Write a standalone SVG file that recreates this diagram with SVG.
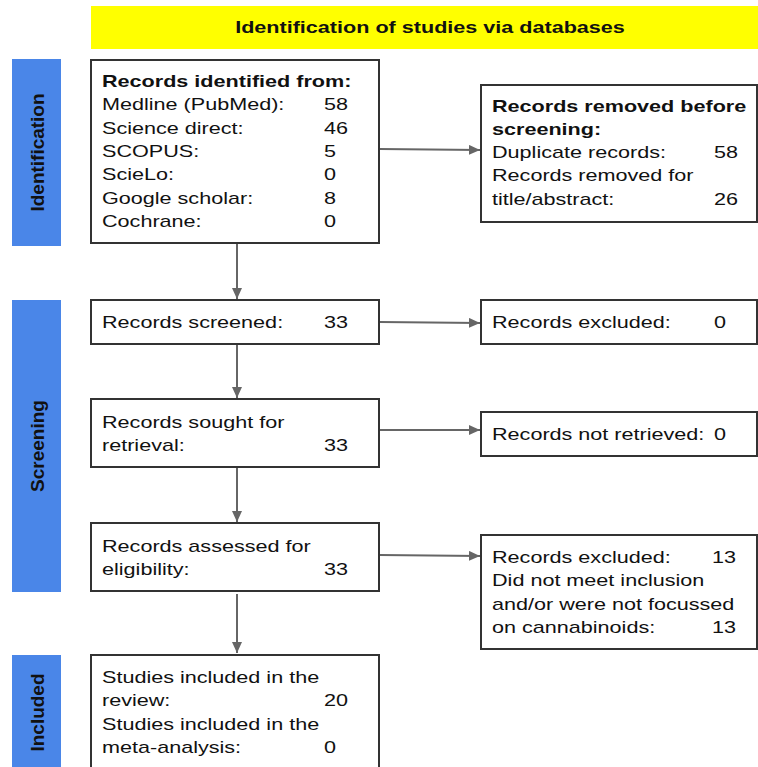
<svg xmlns="http://www.w3.org/2000/svg" width="758" height="767" viewBox="0 0 758 767">
<style>
.t{font-family:"Liberation Sans",Arial,sans-serif;font-size:17px;fill:#111}
.b{font-family:"Liberation Sans",Arial,sans-serif;font-size:17px;font-weight:bold;fill:#111}
.s{font-family:"Liberation Sans",Arial,sans-serif;font-size:19px;font-weight:bold;fill:#111}
.box{fill:#fff;stroke:#333;stroke-width:2}
.side{fill:#4a86e8}
.con{stroke:#666;stroke-width:2;fill:none}
</style>
<defs>
<marker id="ah" markerUnits="userSpaceOnUse" markerWidth="12" markerHeight="11" refX="11" refY="5" orient="auto">
<path d="M0,0 L11,5 L0,10 z" fill="#666"/>
</marker>
</defs>
<rect width="758" height="767" fill="#fff"/>
<g id="header">
<rect x="91" y="6" width="667" height="43" fill="#ffff00"/>
<text class="b" text-anchor="middle" transform="translate(430 33) scale(1.27 1)">Identification of studies via databases</text>
</g>
<g id="side-identification">
<rect class="side" x="12" y="59" width="49" height="187"/>
<text class="s" text-anchor="middle" transform="translate(44 152.5) rotate(-90) scale(1 0.93)">Identification</text>
</g>
<g id="side-screening">
<rect class="side" x="12" y="300" width="49" height="292"/>
<text class="s" text-anchor="middle" transform="translate(44 446) rotate(-90) scale(1 0.93)">Screening</text>
</g>
<g id="side-included">
<rect class="side" x="12" y="655" width="49" height="115"/>
<text class="s" text-anchor="middle" transform="translate(44 712.5) rotate(-90) scale(1 0.93)">Included</text>
</g>
<g id="connectors">
<line class="con" x1="380" y1="149" x2="480" y2="150" marker-end="url(#ah)"/>
<line class="con" x1="380" y1="322" x2="480" y2="323" marker-end="url(#ah)"/>
<line class="con" x1="380" y1="430" x2="480" y2="430" marker-end="url(#ah)"/>
<line class="con" x1="380" y1="555" x2="480" y2="556" marker-end="url(#ah)"/>
<line class="con" x1="237" y1="244" x2="237" y2="299" marker-end="url(#ah)"/>
<line class="con" x1="237" y1="345" x2="237" y2="398" marker-end="url(#ah)"/>
<line class="con" x1="237" y1="468" x2="237" y2="522" marker-end="url(#ah)"/>
<line class="con" x1="237" y1="594" x2="237" y2="653" marker-end="url(#ah)"/>
</g>
<g id="identified">
<rect class="box" x="91" y="60" width="288" height="183"/>
<text class="b" transform="translate(102 87) scale(1.27 1)">Records identified from:</text>
<text class="t" transform="translate(102 110.3) scale(1.27 1)">Medline (PubMed):</text>
<text class="t" transform="translate(324 110.3) scale(1.27 1)">58</text>
<text class="t" transform="translate(102 133.6) scale(1.27 1)">Science direct:</text>
<text class="t" transform="translate(324 133.6) scale(1.27 1)">46</text>
<text class="t" transform="translate(102 156.9) scale(1.27 1)">SCOPUS:</text>
<text class="t" transform="translate(324 156.9) scale(1.27 1)">5</text>
<text class="t" transform="translate(102 180.2) scale(1.27 1)">ScieLo:</text>
<text class="t" transform="translate(324 180.2) scale(1.27 1)">0</text>
<text class="t" transform="translate(102 203.5) scale(1.27 1)">Google scholar:</text>
<text class="t" transform="translate(324 203.5) scale(1.27 1)">8</text>
<text class="t" transform="translate(102 226.8) scale(1.27 1)">Cochrane:</text>
<text class="t" transform="translate(324 226.8) scale(1.27 1)">0</text>
</g>
<g id="removed">
<rect class="box" x="481" y="85" width="276" height="137"/>
<text class="b" transform="translate(492 112) scale(1.27 1)">Records removed before</text>
<text class="b" transform="translate(492 135) scale(1.27 1)">screening:</text>
<text class="t" transform="translate(492 158.2) scale(1.27 1)">Duplicate records:</text>
<text class="t" transform="translate(714 158.2) scale(1.27 1)">58</text>
<text class="t" transform="translate(492 181.4) scale(1.27 1)">Records removed for</text>
<text class="t" transform="translate(492 204.5) scale(1.27 1)">title/abstract:</text>
<text class="t" transform="translate(714 204.5) scale(1.27 1)">26</text>
</g>
<g id="screened">
<rect class="box" x="91" y="300" width="288" height="44"/>
<text class="t" transform="translate(102 328) scale(1.27 1)">Records screened:</text>
<text class="t" transform="translate(324 328) scale(1.27 1)">33</text>
</g>
<g id="excluded1">
<rect class="box" x="481" y="300" width="276" height="44"/>
<text class="t" transform="translate(492 328) scale(1.27 1)">Records excluded:</text>
<text class="t" transform="translate(714 328) scale(1.27 1)">0</text>
</g>
<g id="sought">
<rect class="box" x="91" y="399" width="288" height="68"/>
<text class="t" transform="translate(102 428) scale(1.27 1)">Records sought for</text>
<text class="t" transform="translate(102 451) scale(1.27 1)">retrieval:</text>
<text class="t" transform="translate(324 451) scale(1.27 1)">33</text>
</g>
<g id="notretrieved">
<rect class="box" x="481" y="412" width="276" height="44"/>
<text class="t" transform="translate(492 440) scale(1.27 1)">Records not retrieved:</text>
<text class="t" transform="translate(714 440) scale(1.27 1)">0</text>
</g>
<g id="assessed">
<rect class="box" x="91" y="523" width="288" height="68"/>
<text class="t" transform="translate(102 552) scale(1.27 1)">Records assessed for</text>
<text class="t" transform="translate(102 574.5) scale(1.27 1)">eligibility:</text>
<text class="t" transform="translate(324 574.5) scale(1.27 1)">33</text>
</g>
<g id="excluded2">
<rect class="box" x="481" y="535" width="276" height="114"/>
<text class="t" transform="translate(492 563) scale(1.27 1)">Records excluded:</text>
<text class="t" transform="translate(712 563) scale(1.27 1)">13</text>
<text class="t" transform="translate(492 586.3) scale(1.27 1)">Did not meet inclusion</text>
<text class="t" transform="translate(492 609.6) scale(1.27 1)">and/or were not focussed</text>
<text class="t" transform="translate(492 633) scale(1.27 1)">on cannabinoids:</text>
<text class="t" transform="translate(712 633) scale(1.27 1)">13</text>
</g>
<g id="included">
<rect class="box" x="91" y="655" width="288" height="130"/>
<text class="t" transform="translate(102 683) scale(1.27 1)">Studies included in the</text>
<text class="t" transform="translate(102 706.3) scale(1.27 1)">review:</text>
<text class="t" transform="translate(324 706.3) scale(1.27 1)">20</text>
<text class="t" transform="translate(102 729.6) scale(1.27 1)">Studies included in the</text>
<text class="t" transform="translate(102 753) scale(1.27 1)">meta-analysis:</text>
<text class="t" transform="translate(324 753) scale(1.27 1)">0</text>
</g>
</svg>
